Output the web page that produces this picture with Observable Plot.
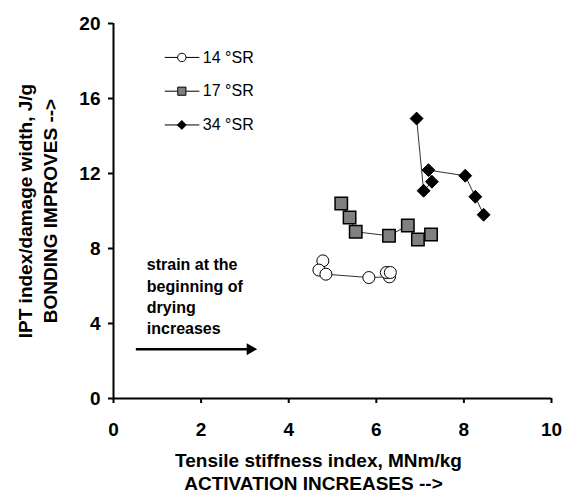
<!DOCTYPE html>
<html>
<head>
<meta charset="utf-8">
<script src="https://cdn.jsdelivr.net/npm/d3@7"></script>
<script src="https://cdn.jsdelivr.net/npm/@observablehq/plot@0.6"></script>
<style>
  body { margin: 0; background: #fff; }
  #chart svg { font-family: "Liberation Sans", Arial, sans-serif; }
</style>
</head>
<body>
<div id="chart"></div>
<script>
// Series (drying sequence order)
const sr14x = [4.78, 4.69, 4.85, 5.83, 6.30, 6.23, 6.32];
const sr14y = [7.34, 6.85, 6.63, 6.45, 6.49, 6.72, 6.72];
const sr17x = [5.20, 5.39, 5.53, 6.29, 6.72, 6.95, 7.25];
const sr17y = [10.40, 9.65, 8.89, 8.68, 9.23, 8.48, 8.75];
const sr34x = [6.92, 7.08, 7.27, 7.19, 8.03, 8.26, 8.45];
const sr34y = [14.93, 11.08, 11.56, 12.18, 11.88, 10.76, 9.80];

const seriesNames = ["14 °SR", "17 °SR", "34 °SR"];
const xTicks = [0, 2, 4, 6, 8, 10];
const yTicks = [0, 4, 8, 12, 16, 20];
const xTitle = ["Tensile stiffness index, MNm/kg", "ACTIVATION INCREASES -->"];
const yTitle = ["IPT index/damage width, J/g", "BONDING IMPROVES -->"];
const note = "strain at the\nbeginning of\ndrying\nincreases";

const toRows = (xs, ys) => xs.map((x, i) => ({x, y: ys[i]}));
const s14 = toRows(sr14x, sr14y);
const s17 = toRows(sr17x, sr17y);
const s34 = toRows(sr34x, sr34y);

// legend rows (in data units, inside the frame)
const legend = seriesNames.map((name, i) => ({name, i, y: 18.19 - i * 1.8}));
const legendStyles = [
  {symbol: "circle", fill: "white", r: 4.2},
  {symbol: "square", fill: "#808080", r: 4.6},
  {symbol: "diamond2", fill: "black", r: 4.0}
];

const FONT = "Liberation Sans, Arial, sans-serif";
const TITLE_SIZE = 19;

const chart = Plot.plot({
  width: 566,
  height: 495,
  marginLeft: 113,
  marginRight: 15,
  marginTop: 23,
  marginBottom: 97,
  style: {fontFamily: FONT, background: "white", color: "black"},
  x: {domain: [0, 10], axis: null},
  y: {domain: [0, 20], axis: null},
  marks: [
    // axes
    Plot.axisX({ticks: xTicks, tickSize: 5, tickPadding: 19, fontSize: 19, fontWeight: "bold", strokeWidth: 2, label: null}),
    Plot.axisY({ticks: yTicks, tickSize: 5, tickPadding: 8, fontSize: 19, fontWeight: "bold", strokeWidth: 2, label: null}),
    Plot.ruleY([0], {strokeWidth: 2}),
    Plot.ruleX([0], {strokeWidth: 2}),
    // axis titles
    Plot.text([xTitle[0]], {text: d => d, frameAnchor: "bottom", textAnchor: "middle", dx: -14, dy: 62, lineAnchor: "middle", fontSize: TITLE_SIZE, fontWeight: "bold"}),
    Plot.text([xTitle[1]], {text: d => d, frameAnchor: "bottom", textAnchor: "middle", dx: -19, dy: 85, lineAnchor: "middle", fontSize: TITLE_SIZE, fontWeight: "bold"}),
    Plot.text([yTitle[0]], {text: d => d, frameAnchor: "left", textAnchor: "middle", dx: -88, rotate: -90, lineAnchor: "middle", fontSize: TITLE_SIZE, fontWeight: "bold"}),
    Plot.text([yTitle[1]], {text: d => d, frameAnchor: "left", textAnchor: "middle", dx: -63, rotate: -90, lineAnchor: "middle", fontSize: TITLE_SIZE, fontWeight: "bold"}),
    // connecting lines
    Plot.line(s14, {x: "x", y: "y", stroke: "#333", strokeWidth: 1}),
    Plot.line(s17, {x: "x", y: "y", stroke: "#333", strokeWidth: 1}),
    Plot.line(s34, {x: "x", y: "y", stroke: "#333", strokeWidth: 1}),
    // markers
    Plot.dot(s14, {x: "x", y: "y", symbol: "circle", r: 6, fill: "white", stroke: "black", strokeWidth: 1}),
    Plot.dot(s17, {x: "x", y: "y", symbol: "square", r: 7, fill: "#808080", stroke: "black", strokeWidth: 1.5}),
    Plot.dot(s34, {x: "x", y: "y", symbol: "diamond2", r: 5.8, fill: "black", stroke: "black", strokeWidth: 1}),
    // legend
    Plot.link(legend, {x1: 1.17, x2: 1.96, y1: "y", y2: "y", stroke: "black", strokeWidth: 1}),
    ...legendStyles.map((s, i) =>
      Plot.dot([legend[i]], {x: 1.56, y: "y", symbol: s.symbol, r: s.r, fill: s.fill, stroke: "black", strokeWidth: 1})),
    Plot.text(legend, {x: 2.04, y: "y", text: "name", textAnchor: "start", lineAnchor: "middle", fontSize: 16}),
    // annotation
    Plot.text([note], {x: 0.76, y: 7.66, text: d => d, textAnchor: "start", lineAnchor: "top", lineHeight: 1.34, fontSize: 16, fontWeight: "bold"}),
    Plot.link([{x1: 0.51, x2: 3.05, y: 2.63}], {x1: "x1", x2: "x2", y1: "y", y2: "y", stroke: "black", strokeWidth: 2.5}),
    Plot.dot([{x: 3.12, y: 2.63}], {x: "x", y: "y", symbol: "triangle", r: 4.5, rotate: 90, fill: "black", stroke: "none"})
  ]
});

document.getElementById("chart").appendChild(chart);
</script>
</body>
</html>
